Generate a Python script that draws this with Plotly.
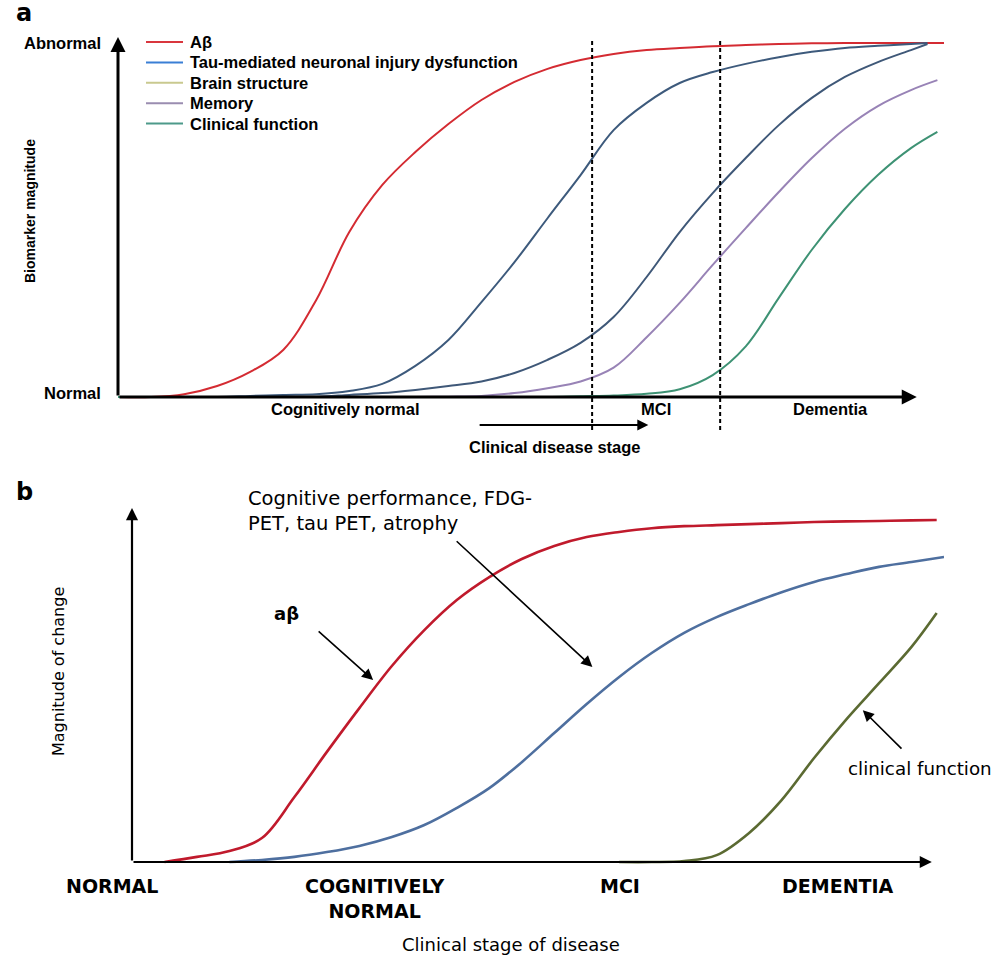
import plotly.graph_objects as go

W, H = 994, 957
FONT = "DejaVu Sans"
FONT_A = "Liberation Sans"

# ---------------- Panel a data (stage 0-100, magnitude 0-100) ----------------
stage_a = [0, 4, 8, 12, 16, 20, 24, 28, 32, 36, 40, 44, 48, 52, 56, 60, 64, 68, 72, 76, 80, 84, 88, 92, 96, 100]
abeta_a = [0, 0, 0.8, 3.1, 7.1, 13.3, 27.4, 46.6, 59.9, 69.2, 77.1, 83.9, 89.0, 92.7, 95.2, 96.9,
           98.0, 98.6, 99.1, 99.4, 99.7, 99.9, 100, 100, 100, 100]

stage_a2 = [0, 4, 8, 12, 16, 20, 24, 28, 32, 36, 40, 44, 48, 52, 56, 60, 64, 68, 72, 76, 80, 84, 88, 92, 96, 98]
tau_a = [0, 0, 0, 0, 0.3, 0.6, 0.8, 1.7, 3.7, 8.8, 16.1, 26.8, 38.1, 50.5, 62.7, 75.4,
         83.1, 88.7, 91.8, 94.1, 96.0, 97.5, 98.6, 99.2, 99.7, 100]
brain_a = [0, 0, 0, 0, 0, 0, 0.1, 0.6, 1.1, 2.0, 3.1, 4.4, 6.8, 10.5, 15.3, 22.6,
           33.9, 46.6, 57.6, 67.5, 76.8, 84.5, 90.4, 94.6, 98.0, 99.7]

stage_a3 = [0, 4, 8, 12, 16, 20, 24, 28, 32, 36, 40, 44, 48, 52, 56, 60, 64, 68, 72, 76, 80, 84, 88, 92, 96, 99.2]
memory_a = [0, 0, 0, 0, 0, 0, 0, 0, 0, 0, 0.1, 0.3, 1.1, 2.5, 4.4, 8.3,
            16.9, 26.6, 37.3, 47.7, 57.9, 67.5, 75.8, 82.2, 86.7, 89.5]
clinical_a = [0, 0, 0, 0, 0, 0, 0, 0, 0, 0, 0, 0, 0, 0, 0.2, 0.4,
              0.9, 2.2, 6.2, 14.3, 28.0, 41.6, 53.1, 62.7, 70.3, 74.9]

series_a_names = ["Aβ", "Tau-mediated neuronal injury dysfunction", "Brain structure", "Memory", "Clinical function"]
stage_bounds_a = [57.4, 72.9]          # Cognitively normal | MCI | Dementia
stage_labels_a = ["Cognitively normal", "MCI", "Dementia"]

# ---------------- Panel b data ----------------
stage_b_red = [4, 8, 12, 16, 20, 24, 28, 32, 36, 40, 44, 48, 52, 56, 60, 64, 68, 72, 76, 80, 84, 88, 92, 96, 99.1]
abeta_b = [0, 1.5, 3.2, 7.0, 19.0, 32.2, 45.0, 57.3, 67.8, 76.6, 83.3, 88.6, 92.4, 95.0, 96.5, 97.6,
           98.2, 98.5, 98.8, 99.1, 99.4, 99.6, 99.7, 99.9, 100]
stage_b_blue = [12, 16, 20, 24, 28, 32, 36, 40, 44, 48, 52, 56, 60, 64, 68, 72, 76, 80, 84, 88, 92, 96, 100]
cognitive_b = [0, 0.6, 1.5, 2.9, 4.7, 7.3, 10.8, 15.8, 21.6, 29.2, 37.7, 46.2, 54.1, 61.1, 67.0, 71.6,
               75.4, 78.9, 81.9, 84.2, 86.3, 87.7, 89.2]
stage_b_olive = [60, 64, 68, 72, 76, 80, 84, 88, 92, 96, 99.1]
clinical_b = [0, 0, 0.3, 2.0, 8.5, 18.1, 30.4, 41.8, 52.3, 62.9, 72.8]

stage_labels_b = ["NORMAL", "COGNITIVELY<br>NORMAL", "MCI", "DEMENTIA"]

# ---------------- colours ----------------
curve_cols_a = ["#d42b32", "#3d5a7c", "#3f5878", "#9883b6", "#3e9274"]
legend_cols_a = ["#d9363e", "#3a7fd5", "#c9c98f", "#9a8db0", "#4d9a8a"]
cols_b = ["#c01a2c", "#4e6f9f", "#5b6a32"]


def px(x):
    return x / W


def py(y):
    return 1 - y / H


fig = go.Figure()

for xs, ys, c, n in [(stage_a, abeta_a, curve_cols_a[0], series_a_names[0]),
                     (stage_a2, tau_a, curve_cols_a[1], series_a_names[1]),
                     (stage_a2, brain_a, curve_cols_a[2], series_a_names[2]),
                     (stage_a3, memory_a, curve_cols_a[3], series_a_names[3]),
                     (stage_a3, clinical_a, curve_cols_a[4], series_a_names[4])]:
    fig.add_trace(go.Scatter(x=xs, y=ys, mode="lines", name=n,
                             line=dict(color=c, width=2, shape="spline", smoothing=1.0),
                             xaxis="x", yaxis="y", showlegend=False, hoverinfo="skip"))

for xs, ys, c, n in [(stage_b_red, abeta_b, cols_b[0], "aβ"),
                     (stage_b_blue, cognitive_b, cols_b[1], "Cognitive performance, FDG-PET, tau PET, atrophy"),
                     (stage_b_olive, clinical_b, cols_b[2], "clinical function")]:
    fig.add_trace(go.Scatter(x=xs, y=ys, mode="lines", name=n,
                             line=dict(color=c, width=2.6, shape="spline", smoothing=1.0),
                             xaxis="x2", yaxis="y2", showlegend=False, hoverinfo="skip"))

ann = []
shapes = []


def arrow(x, y, ax, ay, xr, yr, width, size=1.0, head=2):
    ann.append(dict(x=x, y=y, ax=ax, ay=ay, xref=xr, yref=yr, axref=xr, ayref=yr, text="",
                    showarrow=True, arrowhead=head, arrowwidth=width, arrowsize=size,
                    arrowcolor="black", standoff=0, startstandoff=0))


def text(x, y, s, size, xa="center", ya="middle", bold=False, angle=0, align="center", family=FONT):
    ann.append(dict(x=px(x), y=py(y), xref="paper", yref="paper", text=("<b>%s</b>" % s) if bold else s,
                    showarrow=False, xanchor=xa, yanchor=ya, textangle=angle, align=align,
                    font=dict(family=family, size=size, color="black")))


# ---- panel a axes & markers ----
arrow(0, 101.7, 0, 0, "x", "y", 3, 1.0)
arrow(96.7, 0, 0, 0, "x", "y", 3, 1.0)
arrow(64.2, -7.9, 43.6, -7.9, "x", "y", 2, 1.1)
for b in stage_bounds_a:
    shapes.append(dict(type="line", xref="x", yref="y", x0=b, x1=b, y0=-9.3, y1=101.4,
                       line=dict(color="black", width=2, dash="4px,3px")))

# ---- panel b axes & arrows ----
arrow(0, 103.5, 0, 0, "x2", "y2", 2.2, 1.1)
arrow(98.5, 0, 0, 0, "x2", "y2", 2.2, 1.1)
arrow(29.7, 53.2, 22.8, 67.8, "x2", "y2", 1.6, 1.4)
arrow(56.7, 57.0, 39.8, 94.2, "x2", "y2", 1.6, 1.4)
arrow(90.0, 44.4, 94.95, 32.7, "x2", "y2", 1.6, 1.4)

# ---- panel a texts ----
SA = 16.5
text(24, 13, "a", 24, bold=True)
text(103, 43, "Abnormal", SA, xa="right", bold=True, family=FONT_A)
text(103, 393, "Normal", SA, xa="right", bold=True, family=FONT_A)
text(30, 211, "Biomarker magnitude", 14, angle=-90, bold=True, family=FONT_A)
for lab, xc in zip(stage_labels_a, [345, 656, 830]):
    text(xc, 409, lab, SA, bold=True, family=FONT_A)
text(555, 447, "Clinical disease stage", SA, bold=True, family=FONT_A)

# manual legend
for i, (n, c) in enumerate(zip(series_a_names, legend_cols_a)):
    yy = 42 + i * 20.4
    shapes.append(dict(type="line", xref="paper", yref="paper", x0=px(146), x1=px(183), y0=py(yy), y1=py(yy),
                       line=dict(color=c, width=2)))
    text(188, yy, n, SA, xa="left", bold=True, family=FONT_A)

# ---- panel b texts ----
text(24, 492, "b", 24, bold=True)
text(58, 672, "Magnitude of change", 16, angle=-90)
text(246, 511, "Cognitive performance, FDG-<br>PET, tau PET, atrophy", 19.5, xa="left", align="left")
text(286, 613, "aβ", 18, bold=True)
text(846, 768, "clinical function", 18.3, xa="left")
text(112, 886, stage_labels_b[0], 19, bold=True)
text(375, 898, stage_labels_b[1], 19, bold=True)
text(620, 886, stage_labels_b[2], 19, bold=True)
text(838, 886, stage_labels_b[3], 19, bold=True)
text(511, 944, "Clinical stage of disease", 18)

axis_common = dict(visible=False, showgrid=False, zeroline=False, fixedrange=True)
fig.update_layout(
    width=W, height=H,
    margin=dict(l=0, r=0, t=0, b=0),
    paper_bgcolor="white", plot_bgcolor="rgba(0,0,0,0)",
    showlegend=False,
    xaxis=dict(domain=[px(118), px(944)], range=[0, 100], anchor="y", **axis_common),
    yaxis=dict(domain=[py(440), py(30)], range=[(397 - 440) / 3.54, (397 - 30) / 3.54], anchor="x", **axis_common),
    xaxis2=dict(domain=[px(132), px(944)], range=[0, 100], anchor="y2", **axis_common),
    yaxis2=dict(domain=[py(870), py(500)], range=[(862 - 870) / 3.42, (862 - 500) / 3.42], anchor="x2", **axis_common),
    annotations=ann,
    shapes=shapes,
)

fig.write_html(
    "out.html",
    config={"displayModeBar": False},
    post_script="document.documentElement.style.overflow='hidden';document.body.style.margin='0';document.body.style.overflow='hidden';",
)
